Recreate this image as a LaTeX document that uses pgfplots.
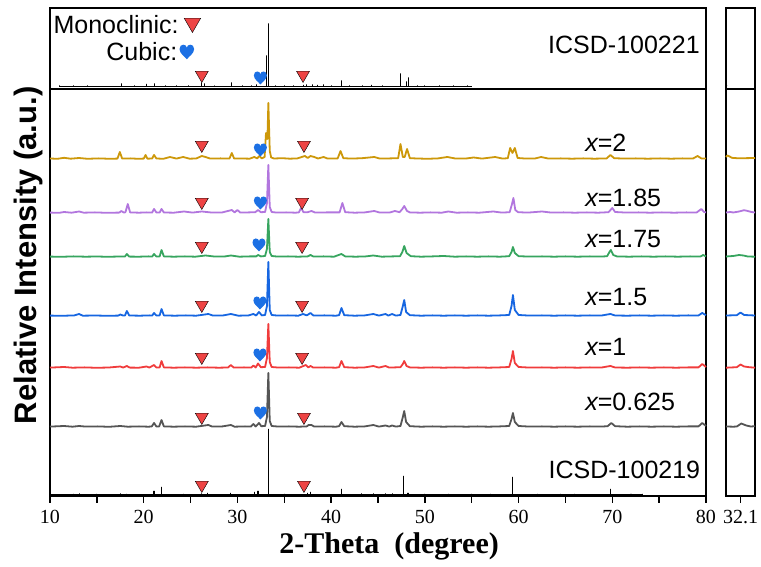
\documentclass[border=0pt]{standalone}
\usepackage{fontspec}
\setmainfont{Liberation Serif}
\newfontfamily\arial{Liberation Sans}
\usepackage{pgfplots}
\pgfplotsset{compat=1.18}
\definecolor{cgold}{RGB}{205,152,10}
\definecolor{cpurple}{RGB}{178,118,222}
\definecolor{cgreen}{RGB}{55,165,95}
\definecolor{cblue}{RGB}{22,102,225}
\definecolor{cred}{RGB}{240,60,60}
\definecolor{cgray}{RGB}{85,85,85}
\definecolor{ctri}{RGB}{238,68,68}
\definecolor{cheart}{RGB}{28,112,228}
\pgfdeclareplotmark{heart}{%
 \pgfpathmoveto{\pgfqpoint{0pt}{-\pgfplotmarksize}}%
 \pgfpathcurveto{\pgfqpoint{-0.3\pgfplotmarksize}{-0.6\pgfplotmarksize}}{\pgfqpoint{-\pgfplotmarksize}{-0.2\pgfplotmarksize}}{\pgfqpoint{-\pgfplotmarksize}{0.4\pgfplotmarksize}}%
 \pgfpathcurveto{\pgfqpoint{-\pgfplotmarksize}{0.8\pgfplotmarksize}}{\pgfqpoint{-0.75\pgfplotmarksize}{\pgfplotmarksize}}{\pgfqpoint{-0.5\pgfplotmarksize}{\pgfplotmarksize}}%
 \pgfpathcurveto{\pgfqpoint{-0.25\pgfplotmarksize}{\pgfplotmarksize}}{\pgfqpoint{0pt}{0.85\pgfplotmarksize}}{\pgfqpoint{0pt}{0.6\pgfplotmarksize}}%
 \pgfpathcurveto{\pgfqpoint{0pt}{0.85\pgfplotmarksize}}{\pgfqpoint{0.25\pgfplotmarksize}{\pgfplotmarksize}}{\pgfqpoint{0.5\pgfplotmarksize}{\pgfplotmarksize}}%
 \pgfpathcurveto{\pgfqpoint{0.75\pgfplotmarksize}{\pgfplotmarksize}}{\pgfqpoint{\pgfplotmarksize}{0.8\pgfplotmarksize}}{\pgfqpoint{\pgfplotmarksize}{0.4\pgfplotmarksize}}%
 \pgfpathcurveto{\pgfqpoint{\pgfplotmarksize}{-0.2\pgfplotmarksize}}{\pgfqpoint{0.3\pgfplotmarksize}{-0.6\pgfplotmarksize}}{\pgfqpoint{0pt}{-\pgfplotmarksize}}%
 \pgfpathclose\pgfusepathqfill}
\pgfplotsset{
 xrdaxis/.style={anchor=south west, scale only axis, height=488pt, ymin=0, ymax=488,
  ytick=\empty, tick align=outside, xtick pos=left,
  major tick length=7pt, minor tick length=7pt,
  axis line style={line width=1.6pt},
  every tick/.style={black, line width=1.3pt},
  /pgf/number format/assume math mode=true,
  ticklabel style={font=\fontsize{20}{20}\selectfont},
  xticklabel style={yshift=-4pt},
  clip=false},
 tri/.style={only marks, mark=triangle*, mark size=7.5pt, mark options={rotate=180, fill=ctri, draw=none}},
 hrt/.style={only marks, mark=heart, mark size=6.5pt, mark options={fill=cheart, draw=none}},
 pat/.style={line width=1.8pt, line join=round},
}
\tikzset{lab/.style={font=\arial\fontsize{25}{25}\selectfont, inner sep=0pt}}
\begin{document}
\begin{tikzpicture}
\useasboundingbox (0,0) rectangle (761pt,567pt);
\begin{axis}[xrdaxis, at={(50pt,71pt)}, width=656pt,
 xmin=10, xmax=80, xtick={10,20,...,80}, minor xtick={15,25,...,75},
 xlabel={\bfseries 2-Theta\ \ (degree)},
 xlabel style={font=\fontsize{30}{30}\selectfont, at={(axis description cs:0.517,0)}, anchor=center, yshift=-50pt},
 ylabel={Relative Intensity (a.u.)},
 ylabel style={font=\arial\bfseries\fontsize{31}{31}\selectfont, at={(axis description cs:0,0.493)}, anchor=center, yshift=22pt},
]
% divider
\draw[line width=1.6pt] (axis cs:10,407) -- (axis cs:80,407);
% ICSD-100221 (top)
\addplot[black, line width=0.8pt] table[row sep=\\, y expr=\thisrowno{1}+409.5] {
x y\\ 11 0\\ 11 1\\ 11 0\\ 12.5 0\\ 12.5 1\\ 12.5 0\\ 14 0\\ 14 1\\ 14 0\\ 17.6 0\\ 17.6 3\\ 17.6 0\\ 19 0\\ 19 1\\ 19 0\\ 20.3 0\\ 20.3 2.5\\ 20.3 0\\ 21.1 0\\ 21.1 3\\ 21.1 0\\ 22.3 0\\ 22.3 1\\ 22.3 0\\ 23.5 0\\ 23.5 1\\ 23.5 0\\ 24.8 0\\ 24.8 1\\ 24.8 0\\ 26.2 0\\ 26.2 4\\ 26.2 0\\ 26.5 0\\ 26.5 3\\ 26.5 0\\ 27.5 0\\ 27.5 1\\ 27.5 0\\ 29.4 0\\ 29.4 4\\ 29.4 0\\ 30.5 0\\ 30.5 1\\ 30.5 0\\ 31.5 0\\ 31.5 1\\ 31.5 0\\ 32.0 0\\ 32.0 2\\ 32.0 0\\ 33.05 0\\ 33.05 31\\ 33.05 0\\ 33.3 0\\ 33.3 63\\ 33.3 0\\ 34 0\\ 34 1\\ 34 0\\ 35 0\\ 35 1\\ 35 0\\ 36 0\\ 36 1\\ 36 0\\ 37.0 0\\ 37.0 1.5\\ 37.0 0\\ 37.4 0\\ 37.4 2\\ 37.4 0\\ 38 0\\ 38 2\\ 38 0\\ 38.5 0\\ 38.5 1.5\\ 38.5 0\\ 39.2 0\\ 39.2 2\\ 39.2 0\\ 40 0\\ 40 1\\ 40 0\\ 41.1 0\\ 41.1 6\\ 41.1 0\\ 42 0\\ 42 1\\ 42 0\\ 43.3 0\\ 43.3 1\\ 43.3 0\\ 44.3 0\\ 44.3 1.5\\ 44.3 0\\ 45.5 0\\ 45.5 1\\ 45.5 0\\ 47.4 0\\ 47.4 13\\ 47.4 0\\ 48.0 0\\ 48.0 5\\ 48.0 0\\ 48.2 0\\ 48.2 9\\ 48.2 0\\ 49.2 0\\ 49.2 1\\ 49.2 0\\ 50 0\\ 50 1\\ 50 0\\ 51.5 0\\ 51.5 1\\ 51.5 0\\ 53 0\\ 53 1\\ 53 0\\ 54.5 0\\ 54.5 1\\ 54.5 0\\ 55 0\\
};
% x=2 gold
\addplot[cgold, pat] table[row sep=\\, y expr=\thisrowno{1}+337] {
x y\\ 10 0.5\\ 10.8 0.2\\ 11.5 1.2\\ 12.2 0.3\\ 13.1 1\\ 14 0.2\\ 15.2 0.6\\ 16.4 0.2\\ 17.2 0.4\\ 17.45 7\\ 17.7 0.4\\ 18.6 0.6\\ 19.4 0.2\\ 20.0 0.4\\ 20.2 4\\ 20.4 0.3\\ 20.9 0.5\\ 21.1 4\\ 21.35 0.5\\ 22.1 0.2\\ 22.8 2\\ 23.5 0.4\\ 24.2 2\\ 24.9 0.3\\ 25.6 0.5\\ 26.2 3\\ 26.6 2\\ 27.1 0.4\\ 28.2 0.6\\ 29.15 0.4\\ 29.4 6\\ 29.65 0.4\\ 30.5 0.5\\ 31.3 0.3\\ 31.8 2\\ 32.1 0.6\\ 32.35 3\\ 32.6 0.6\\ 32.9 2\\ 33.05 26\\ 33.2 20\\ 33.3 56\\ 33.45 8\\ 33.6 1.5\\ 33.9 0.5\\ 34.8 0.8\\ 35.6 0.3\\ 36.4 0.6\\ 37.2 3\\ 37.5 1\\ 37.8 3\\ 38.2 2\\ 38.6 0.5\\ 39.2 2\\ 39.6 0.5\\ 40.7 0.6\\ 41.0 8\\ 41.3 0.8\\ 42.2 0.4\\ 43.3 0.8\\ 44.6 2\\ 45.2 0.4\\ 46.3 0.6\\ 47.15 0.8\\ 47.4 15\\ 47.65 2\\ 47.85 2\\ 48.1 10\\ 48.4 0.8\\ 49.2 0.5\\ 50.3 0.2\\ 51.4 0.6\\ 52.4 2\\ 53.3 0.4\\ 54.5 0.6\\ 55.2 1.5\\ 56.1 0.4\\ 57.5 2\\ 58.3 0.4\\ 58.85 0.8\\ 59.1 11\\ 59.35 6\\ 59.6 11\\ 59.9 1\\ 60.8 0.4\\ 61.8 0.6\\ 62.4 2\\ 63.2 0.4\\ 64.5 0.6\\ 65.7 0.3\\ 66.9 0.6\\ 68.1 0.3\\ 69.4 0.6\\ 69.8 4\\ 70.2 0.8\\ 71.3 0.4\\ 72.5 0.6\\ 73.8 0.3\\ 75.1 0.6\\ 76.3 0.3\\ 77.5 0.6\\ 78.6 0.4\\ 79.1 3\\ 79.5 0.6\\ 80 0.4\\
};
% x=1.85 purple
\addplot[cpurple, pat] table[row sep=\\, y expr=\thisrowno{1}+283] {
x y\\ 10 0.4\\ 11 0.2\\ 11.5 1\\ 12.3 0.3\\ 13.1 1.5\\ 13.6 0.3\\ 14.8 0.6\\ 16 0.2\\ 17.4 0.4\\ 17.6 2\\ 17.9 0.4\\ 18.05 0.8\\ 18.3 9\\ 18.55 0.6\\ 19.5 0.3\\ 20.3 0.6\\ 20.9 0.4\\ 21.1 4\\ 21.35 0.5\\ 21.7 0.5\\ 21.9 4\\ 22.15 0.5\\ 23.2 0.3\\ 24.3 1.5\\ 25.2 0.4\\ 26.2 1.5\\ 27.3 0.4\\ 28.4 0.6\\ 29.4 3\\ 29.7 0.6\\ 30.0 3\\ 30.3 0.4\\ 31.2 0.6\\ 31.9 0.8\\ 32.2 3\\ 32.5 0.8\\ 32.95 1\\ 33.15 10\\ 33.3 48\\ 33.45 6\\ 33.65 1\\ 34.2 0.4\\ 35.2 0.6\\ 36.2 0.3\\ 36.55 0.6\\ 36.8 5\\ 37.05 0.8\\ 37.5 0.8\\ 37.9 2\\ 38.3 0.4\\ 39.5 0.6\\ 40.9 0.6\\ 41.2 10\\ 41.5 0.8\\ 42.5 0.3\\ 43.6 0.6\\ 44.6 2\\ 45.2 0.4\\ 46.3 0.6\\ 46.8 2\\ 47.3 0.8\\ 47.6 4\\ 47.8 7\\ 48.1 2\\ 48.4 0.6\\ 49.5 0.3\\ 50.6 0.6\\ 51.8 0.3\\ 52.5 1.5\\ 53.4 0.3\\ 54.6 0.6\\ 55.8 0.3\\ 57.3 1.5\\ 58.2 0.4\\ 59.05 0.8\\ 59.3 9\\ 59.45 15\\ 59.65 3\\ 59.95 0.8\\ 61 0.4\\ 62.5 1.5\\ 63.5 0.4\\ 64.8 0.6\\ 66 0.3\\ 67.3 0.6\\ 68.5 0.3\\ 69.6 0.8\\ 70.0 5\\ 70.3 1\\ 71.5 0.4\\ 72.8 0.6\\ 74 0.3\\ 75.3 0.6\\ 76.6 0.3\\ 77.9 0.6\\ 79 0.5\\ 79.5 4\\ 79.8 1\\ 80 0.6\\
};
% x=1.75 green
\addplot[cgreen, pat] table[row sep=\\, y expr=\thisrowno{1}+239] {
x y\\ 10 0.4\\ 11.2 0.2\\ 12.5 0.6\\ 13.8 0.3\\ 15 0.5\\ 16.2 0.2\\ 17.4 0.5\\ 18.0 0.5\\ 18.2 3\\ 18.45 0.4\\ 19.5 0.3\\ 20.5 0.6\\ 20.9 0.4\\ 21.1 3\\ 21.35 0.5\\ 21.7 0.6\\ 21.9 7\\ 22.15 0.6\\ 23.2 0.3\\ 24.4 0.6\\ 25.5 0.3\\ 26.6 1.5\\ 27.6 0.4\\ 28.7 0.6\\ 29.3 1.5\\ 30.2 0.3\\ 31.3 0.6\\ 32.0 0.6\\ 32.2 2\\ 32.5 0.6\\ 32.95 1\\ 33.15 8\\ 33.3 38\\ 33.45 5\\ 33.65 1\\ 34.3 0.4\\ 35.4 0.6\\ 36.5 0.3\\ 37.5 0.6\\ 37.8 2\\ 38.1 0.5\\ 39.2 0.6\\ 40.3 0.3\\ 41.1 3\\ 41.5 0.6\\ 42.6 0.3\\ 43.7 0.6\\ 44.5 1.5\\ 45.4 0.3\\ 46.5 0.6\\ 47.35 0.8\\ 47.6 5\\ 47.8 11\\ 48.05 4\\ 48.5 0.8\\ 49.6 0.3\\ 50.8 0.6\\ 52 1\\ 53.2 0.3\\ 54.4 0.6\\ 55.6 0.3\\ 56.8 0.6\\ 58 0.3\\ 59.0 0.8\\ 59.25 5\\ 59.4 10\\ 59.6 4\\ 60.0 0.8\\ 61.2 0.4\\ 62.5 0.6\\ 63.8 0.3\\ 65 0.6\\ 66.3 0.3\\ 67.6 0.6\\ 68.8 0.4\\ 69.45 0.8\\ 69.7 5\\ 69.85 7\\ 70.1 2\\ 70.5 0.6\\ 71.8 0.3\\ 73.1 0.6\\ 74.4 0.3\\ 75.7 0.6\\ 77 0.3\\ 78.3 0.6\\ 79.4 0.4\\ 79.7 2\\ 80 0.6\\
};
% x=1.5 blue
\addplot[cblue, pat] table[row sep=\\, y expr=\thisrowno{1}+180] {
x y\\ 10 0.4\\ 11.3 0.2\\ 12.6 0.6\\ 13.1 2\\ 13.5 0.3\\ 14.8 0.5\\ 16.1 0.2\\ 17.3 0.4\\ 17.5 1.5\\ 17.8 0.4\\ 18.0 0.5\\ 18.2 5\\ 18.45 0.5\\ 19.6 0.3\\ 20.6 0.6\\ 20.9 0.4\\ 21.1 3\\ 21.35 0.5\\ 21.7 0.6\\ 21.9 7\\ 22.15 0.6\\ 23.3 0.3\\ 24.5 0.6\\ 25.6 0.3\\ 26.9 2\\ 27.4 0.4\\ 28.5 0.6\\ 29.3 2\\ 30.1 0.3\\ 31.2 0.6\\ 31.7 2\\ 32.0 0.5\\ 32.3 4\\ 32.6 0.6\\ 32.95 1\\ 33.15 10\\ 33.3 54\\ 33.45 6\\ 33.65 1\\ 34.3 0.4\\ 35.4 0.6\\ 36.5 0.3\\ 37.0 2\\ 37.4 0.6\\ 37.8 3\\ 38.1 0.5\\ 39.3 0.6\\ 40.5 0.3\\ 40.85 0.8\\ 41.1 8\\ 41.4 0.8\\ 42.5 0.3\\ 43.6 0.6\\ 44.5 2\\ 45.1 0.4\\ 45.8 2\\ 46.1 0.4\\ 46.5 2\\ 46.9 0.4\\ 47.4 1\\ 47.65 10\\ 47.8 16\\ 48.0 4\\ 48.4 0.8\\ 49.6 0.3\\ 50.8 0.6\\ 52 0.3\\ 53.2 0.6\\ 54.4 0.3\\ 55.6 0.6\\ 56.8 0.3\\ 58 0.6\\ 59.0 1\\ 59.25 10\\ 59.4 21\\ 59.6 6\\ 60.0 1\\ 61.2 0.4\\ 62.5 0.6\\ 63.8 0.3\\ 65 0.6\\ 66.3 0.3\\ 67.6 0.6\\ 68.8 0.4\\ 69.8 2\\ 70.3 0.5\\ 71.6 0.3\\ 72.9 0.6\\ 74.2 0.3\\ 75.5 0.6\\ 76.8 0.3\\ 78.1 0.6\\ 79.2 0.5\\ 79.6 3\\ 80 0.8\\
};
% x=1 red
\addplot[cred, pat] table[row sep=\\, y expr=\thisrowno{1}+128] {
x y\\ 10 0.4\\ 11.5 1\\ 12.4 0.3\\ 13.7 0.6\\ 15 0.2\\ 16.3 0.5\\ 17.5 1.5\\ 17.8 0.4\\ 18.2 2\\ 18.5 0.4\\ 19.5 0.3\\ 20.3 1.5\\ 20.6 0.4\\ 21.1 3\\ 21.35 0.5\\ 21.7 0.6\\ 21.9 7\\ 22.15 0.6\\ 23.2 0.3\\ 24.4 0.6\\ 25.6 0.3\\ 26.8 0.6\\ 28 0.3\\ 29.0 0.5\\ 29.3 3\\ 29.6 0.4\\ 30.7 0.6\\ 31.5 0.5\\ 31.7 2.5\\ 31.95 0.5\\ 32.2 4.5\\ 32.5 0.8\\ 32.95 1\\ 33.15 10\\ 33.3 44\\ 33.45 6\\ 33.65 1\\ 34.4 0.4\\ 35.5 0.6\\ 36.6 0.3\\ 37.3 3\\ 37.55 0.6\\ 37.8 2\\ 38.1 0.4\\ 39.3 0.6\\ 40.5 0.3\\ 40.85 0.8\\ 41.1 7\\ 41.4 0.8\\ 42.5 0.3\\ 43.6 0.6\\ 44.5 2\\ 45.1 0.4\\ 45.8 2\\ 46.2 0.4\\ 47.4 0.8\\ 47.65 4\\ 47.8 7\\ 48.05 2\\ 48.4 0.6\\ 49.6 0.3\\ 50.8 0.6\\ 52 0.3\\ 53.2 0.6\\ 54.4 0.3\\ 55.6 0.6\\ 56.8 0.3\\ 58 0.6\\ 59.0 1\\ 59.25 9\\ 59.4 17\\ 59.6 5\\ 60.0 1\\ 61.2 0.4\\ 62.5 0.6\\ 63.8 0.3\\ 65 0.6\\ 66.3 0.3\\ 67.6 0.6\\ 68.8 0.4\\ 69.8 2\\ 70.3 0.5\\ 71.6 0.3\\ 72.9 0.6\\ 74.2 0.3\\ 75.5 0.6\\ 76.8 0.3\\ 78.1 0.6\\ 79.2 0.6\\ 79.6 4\\ 80 1\\
};
% x=0.625 gray
\addplot[cgray, pat] table[row sep=\\, y expr=\thisrowno{1}+69] {
x y\\ 10 0.4\\ 11.5 1\\ 12.4 0.3\\ 13.1 1\\ 13.8 0.4\\ 15.1 0.6\\ 16.3 0.2\\ 17.5 1\\ 18.3 0.3\\ 19.5 0.6\\ 20.5 0.3\\ 20.85 0.5\\ 21.1 4\\ 21.35 0.5\\ 21.65 0.6\\ 21.9 7\\ 22.15 0.6\\ 23.2 0.3\\ 24.4 0.6\\ 25.6 0.3\\ 26.9 2\\ 27.3 0.4\\ 28.4 0.6\\ 29.3 2\\ 29.7 0.3\\ 30.8 0.6\\ 31.45 0.5\\ 31.7 3\\ 31.95 0.5\\ 32.3 4\\ 32.55 0.8\\ 32.95 1\\ 33.15 10\\ 33.3 54\\ 33.45 6\\ 33.65 1\\ 34.4 0.4\\ 35.5 0.6\\ 36.6 0.3\\ 37.4 0.6\\ 37.6 2\\ 37.9 2\\ 38.2 0.4\\ 39.3 0.6\\ 40.5 0.3\\ 40.85 0.8\\ 41.1 5\\ 41.4 0.8\\ 42.5 0.3\\ 43.6 0.6\\ 44.5 2\\ 45.1 0.4\\ 45.8 1.5\\ 46.2 0.4\\ 46.5 1.5\\ 46.9 0.4\\ 47.4 1\\ 47.65 10\\ 47.8 16\\ 48.0 5\\ 48.4 0.8\\ 49.6 0.3\\ 50.8 0.6\\ 52 0.3\\ 53.2 0.6\\ 54.4 0.3\\ 55.6 0.6\\ 56.8 0.3\\ 58 0.6\\ 59.0 1\\ 59.25 8\\ 59.4 14\\ 59.6 5\\ 60.0 1\\ 61.2 0.4\\ 62.5 0.6\\ 63.8 0.3\\ 65 0.6\\ 66.3 0.3\\ 67.6 0.6\\ 68.8 0.4\\ 69.5 0.8\\ 69.9 4\\ 70.3 0.8\\ 71.6 0.3\\ 72.9 0.6\\ 74.2 0.3\\ 75.5 0.6\\ 76.8 0.3\\ 78.1 0.6\\ 79.2 0.6\\ 79.6 4\\ 80 1\\
};
% ICSD-100219 (bottom)
\addplot[black, line width=1.1pt] table[row sep=\\, y expr=\thisrowno{1}+1] {
x y\\ 10 0\\ 12.5 0\\ 12.5 1\\ 12.5 0\\ 13.1 0\\ 13.1 1.5\\ 13.1 0\\ 15 0\\ 15 1\\ 15 0\\ 17.5 0\\ 17.5 1.5\\ 17.5 0\\ 18.2 0\\ 18.2 1\\ 18.2 0\\ 21.1 0\\ 21.1 4\\ 21.1 0\\ 21.9 0\\ 21.9 8\\ 21.9 0\\ 24.2 0\\ 24.2 1\\ 24.2 0\\ 26.2 0\\ 26.2 1.5\\ 26.2 0\\ 26.8 0\\ 26.8 2\\ 26.8 0\\ 29.3 0\\ 29.3 2\\ 29.3 0\\ 31.8 0\\ 31.8 3\\ 31.8 0\\ 32.2 0\\ 32.2 4\\ 32.2 0\\ 33.3 0\\ 33.3 66\\ 33.3 0\\ 35 0\\ 35 1\\ 35 0\\ 37.5 0\\ 37.5 2\\ 37.5 0\\ 37.8 0\\ 37.8 3\\ 37.8 0\\ 41.1 0\\ 41.1 6\\ 41.1 0\\ 43.2 0\\ 43.2 1.5\\ 43.2 0\\ 44.5 0\\ 44.5 1.5\\ 44.5 0\\ 45.8 0\\ 45.8 1.5\\ 45.8 0\\ 46.5 0\\ 46.5 1.5\\ 46.5 0\\ 47.7 0\\ 47.7 19\\ 47.7 0\\ 48.2 0\\ 48.2 2\\ 48.2 0\\ 50 0\\ 50 1\\ 50 0\\ 52.5 0\\ 52.5 1\\ 52.5 0\\ 55 0\\ 55 1\\ 55 0\\ 57 0\\ 57 1\\ 57 0\\ 59.4 0\\ 59.4 18\\ 59.4 0\\ 62 0\\ 62 1\\ 62 0\\ 64.5 0\\ 64.5 1\\ 64.5 0\\ 66 0\\ 66 1\\ 66 0\\ 69.8 0\\ 69.8 6\\ 69.8 0\\ 72 0\\ 72 1\\ 72 0\\ 73.2 0\\ 73.2 1\\ 73.2 0\\
};
% phase markers
\addplot[tri] coordinates {(26.2,421) (37.0,421) (26.2,351) (37.1,351) (26.2,294) (36.9,294) (26.2,250) (36.9,250) (26.2,191) (36.9,191) (26.2,139) (36.9,139) (26.2,79) (37.1,79) (26.2,11) (37.1,11)};
\addplot[hrt] coordinates {(32.45,418) (32.45,346) (32.45,293) (32.3,251) (32.4,193) (32.4,141) (32.45,83)};
% key markers
\addplot[tri, mark size=9.5pt] coordinates {(25.2,473)};
\addplot[hrt, mark size=7.3pt] coordinates {(24.6,444)};
\node[lab, anchor=east] at (axis cs:23.75,471) {Monoclinic:};
\node[lab, anchor=east] at (axis cs:23.6,444) {Cubic:};
\node[lab, anchor=east] at (axis cs:79.35,451) {ICSD-100221};
\node[lab, anchor=east] at (axis cs:79.4,26) {ICSD-100219};
\node[lab, anchor=west] at (axis cs:67.1,353) {\itshape x\upshape=2};
\node[lab, anchor=west] at (axis cs:67.1,298) {\itshape x\upshape=1.85};
\node[lab, anchor=west] at (axis cs:67.1,257) {\itshape x\upshape=1.75};
\node[lab, anchor=west] at (axis cs:67.1,199) {\itshape x\upshape=1.5};
\node[lab, anchor=west] at (axis cs:67.1,149) {\itshape x\upshape=1};
\node[lab, anchor=west] at (axis cs:67.1,94) {\itshape x\upshape=0.625};
\end{axis}
\begin{axis}[xrdaxis, at={(726pt,71pt)}, width=29pt,
 xmin=31.9, xmax=32.3, xtick={32.1},
 xticklabel style={/pgf/number format/.cd, fixed, precision=1},
]
\draw[line width=1.6pt] (axis cs:31.9,407) -- (axis cs:32.3,407);
\addplot[black, line width=1.6pt] coordinates {(31.9,409) (31.905,411)};
\addplot[cgold, pat] table[row sep=\\, y expr=\thisrowno{1}+337] {x y\\ 31.9 2\\ 31.92 3.5\\ 31.95 2.5\\ 31.98 1.2\\ 32.05 0.8\\ 32.15 0.8\\ 32.3 1\\};
\addplot[cpurple, pat] table[row sep=\\, y expr=\thisrowno{1}+283] {x y\\ 31.9 0.5\\ 31.96 1\\ 32.0 0.5\\ 32.08 1.5\\ 32.15 2.8\\ 32.2 2\\ 32.25 1\\ 32.3 0.5\\};
\addplot[cgreen, pat] table[row sep=\\, y expr=\thisrowno{1}+239] {x y\\ 31.9 0.5\\ 32.0 1\\ 32.08 2\\ 32.14 1.5\\ 32.2 0.5\\ 32.3 0.3\\};
\addplot[cblue, pat] table[row sep=\\, y expr=\thisrowno{1}+180] {x y\\ 31.9 0.5\\ 32.05 0.8\\ 32.1 3.5\\ 32.15 1\\ 32.3 0.5\\};
\addplot[cred, pat] table[row sep=\\, y expr=\thisrowno{1}+128] {x y\\ 31.9 0.3\\ 32.05 0.8\\ 32.1 3.5\\ 32.15 1.5\\ 32.22 0.8\\ 32.3 0.3\\};
\addplot[cgray, pat] table[row sep=\\, y expr=\thisrowno{1}+69] {x y\\ 31.9 0.5\\ 32.0 0.3\\ 32.05 0.5\\ 32.11 3.5\\ 32.18 1.5\\ 32.24 0.5\\ 32.3 0.8\\};
\end{axis}
\end{tikzpicture}
\end{document}
